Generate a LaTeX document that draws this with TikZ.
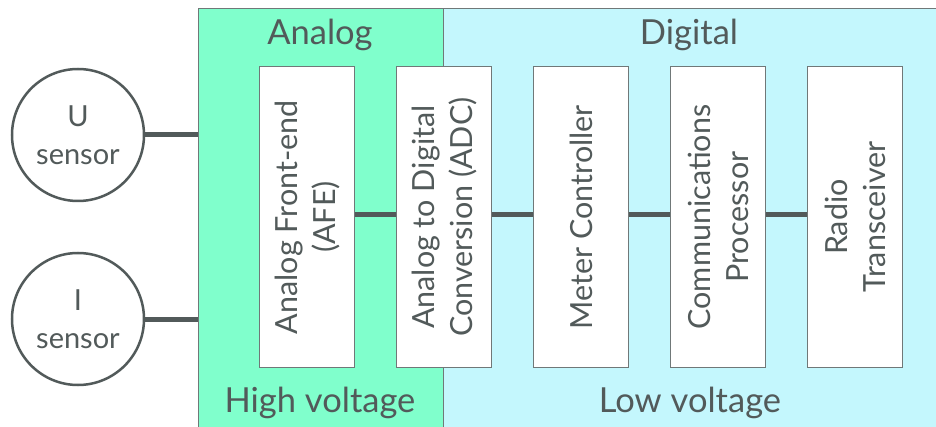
\documentclass[tikz,border=0pt]{standalone}
\usepackage{fontspec}
\setmainfont{Lato}
\definecolor{ink}{HTML}{525A5A}
\definecolor{anfill}{HTML}{80FFCC}
\definecolor{digfill}{HTML}{C4F7FD}
\definecolor{edge}{HTML}{707878}
\begin{document}
\begin{tikzpicture}[x=1pt,y=-1pt,
  region/.style={draw=edge,line width=1pt},
  block/.style={draw=edge,fill=white,line width=1.2pt,minimum width=95pt,minimum height=301pt,anchor=north west,inner sep=0pt},
  blocktext/.style={rotate=90,align=center,text=ink,font=\fontsize{30.5}{38}\selectfont},
  sensor/.style={circle,draw=ink,line width=2.5pt,minimum size=132pt,inner sep=0pt,align=center,text=ink,font=\fontsize{29}{38}\selectfont},
  conn/.style={draw=ink,line width=5pt},
  zlabel/.style={text=ink,font=\fontsize{34.5}{36}\selectfont,anchor=base}]
\useasboundingbox (0,0) rectangle (936,427);
\fill[white] (0,0) rectangle (936,427);
\path[region,fill=anfill] (198,9) rectangle (443,430);
\path[region,fill=digfill] (443,9) rectangle (940,430);
\node[zlabel] (an) at (320,45) {Analog};
\node[zlabel] (dg) at (689,45) {Digital};
\node[zlabel] (hv) at (320,412) {High voltage};
\node[zlabel] (lv) at (690,412) {Low voltage};
\coordinate (edgeU) at (198,135);
\coordinate (edgeI) at (198,319);
\node[sensor] (u) at (78,135) {U\\sensor};
\node[sensor] (i) at (78,319) {I\\sensor};
\node[block] (afe) at (259,66) {};
\node[block] (adc) at (396,66) {};
\node[block] (mc) at (533,66) {};
\node[block] (cp) at (670,66) {};
\node[block] (rt) at (807,66) {};
\node[blocktext] at (afe.center) {Analog Front-end\\(AFE)};
\node[blocktext] at (adc.center) {Analog to Digital\\Conversion (ADC)};
\node[blocktext] at (mc.center) {Meter Controller};
\node[blocktext] at (cp.center) {Communications\\Processor};
\node[blocktext] at (rt.center) {Radio\\Transceiver};
\draw[conn] (u.east) -- (edgeU);
\draw[conn] (i.east) -- (edgeI);
\draw[conn] (afe.east |- 0,215) -- (adc.west |- 0,215);
\draw[conn] (adc.east |- 0,215) -- (mc.west |- 0,215);
\draw[conn] (mc.east |- 0,215) -- (cp.west |- 0,215);
\draw[conn] (cp.east |- 0,215) -- (rt.west |- 0,215);
\end{tikzpicture}
\end{document}
